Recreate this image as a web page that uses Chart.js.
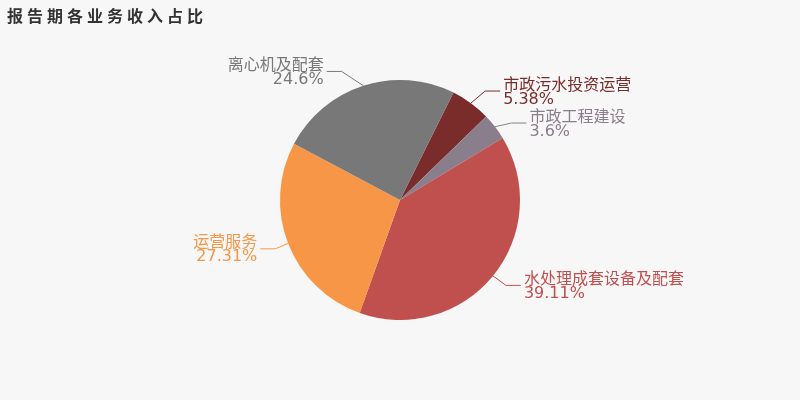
<!DOCTYPE html>
<html>
<head>
<meta charset="utf-8">
<script src="https://cdn.jsdelivr.net/npm/chart.js@4.4.0/dist/chart.umd.min.js"></script>
<style>
  html, body { margin: 0; padding: 0; background: #f7f7f7; }
  #wrap { position: relative; width: 800px; height: 400px; }
  #title {
    position: absolute; left: 7px; top: 3px;
    font: bold 16px "Noto Sans CJK SC", sans-serif;
    letter-spacing: 4px; color: #333;
  }
</style>
</head>
<body>
<div id="wrap">
  <canvas id="pie" width="800" height="400"></canvas>
  <div id="title">报告期各业务收入占比</div>
</div>
<script>
// business segments, clockwise from the first slice
var categories = ["市政污水投资运营", "市政工程建设", "水处理成套设备及配套", "运营服务", "离心机及配套"];
var shares = [5.38, 3.6, 39.11, 27.31, 24.6];
var colors = ['#7a2c2b', '#8b7e8c', '#c0504d', '#f79646', '#787878'];

// outside labels with leader lines
var pieLabels = {
    id: 'pieLabels',
    afterDatasetsDraw: function(chart) {
        var ctx = chart.ctx;
        var arcs = chart.getDatasetMeta(0).data;
        var len1 = 15, len2 = 15;
        var items = [];
        arcs.forEach(function(arc, i) {
            var p = arc.getProps(['x', 'y', 'startAngle', 'endAngle', 'outerRadius'], true);
            var mid = (p.startAngle + p.endAngle) / 2;
            var c = Math.cos(mid), s = Math.sin(mid);
            items.push({
                i: i, right: c >= 0, cx: p.x, cy: p.y, r: p.outerRadius,
                x0: p.x + c * p.outerRadius, y0: p.y + s * p.outerRadius,
                y1: p.y + s * (p.outerRadius + len1)
            });
        });
        // push labels apart on each side
        [true, false].forEach(function(side) {
            var list = items.filter(function(d) { return d.right === side; })
                .sort(function(a, b) { return a.y1 - b.y1; });
            for (var k = 1; k < list.length; k++) {
                if (list[k].y1 < list[k - 1].y1 + 32) list[k].y1 = list[k - 1].y1 + 32;
            }
        });
        ctx.save();
        ctx.font = '16px "DejaVu Sans", "Noto Sans CJK SC", sans-serif';
        ctx.textBaseline = 'alphabetic';
        items.forEach(function(d) {
            var dir = d.right ? 1 : -1;
            var R = d.r + 28;
            var dy = d.y1 - d.cy;
            var x2 = d.cx + dir * Math.sqrt(Math.max(R * R - dy * dy, 0));
            var x1 = x2 - dir * len2;
            ctx.strokeStyle = colors[d.i];
            ctx.lineWidth = 1;
            ctx.beginPath();
            ctx.moveTo(d.x0, d.y0);
            ctx.lineTo(x1, d.y1);
            ctx.lineTo(x2, d.y1);
            ctx.stroke();
            ctx.fillStyle = colors[d.i];
            ctx.textAlign = d.right ? 'left' : 'right';
            var tx = x2 + dir * 3;
            ctx.fillText(categories[d.i], tx, d.y1 - 1.5);
            ctx.fillText(shares[d.i] + '%', tx, d.y1 + 12.5);
        });
        ctx.restore();
    }
};

var chart = new Chart(document.getElementById('pie'), {
    type: 'pie',
    data: {
        labels: categories,
        datasets: [{
            data: shares,
            backgroundColor: colors,
            borderWidth: 0
        }]
    },
    options: {
        responsive: false,
        animation: false,
        rotation: 26.5,
        layout: {padding: {top: 80, bottom: 80}},
        plugins: {
            legend: {display: false},
            tooltip: {enabled: false}
        }
    },
    plugins: [pieLabels]
});
</script>
</body>
</html>
